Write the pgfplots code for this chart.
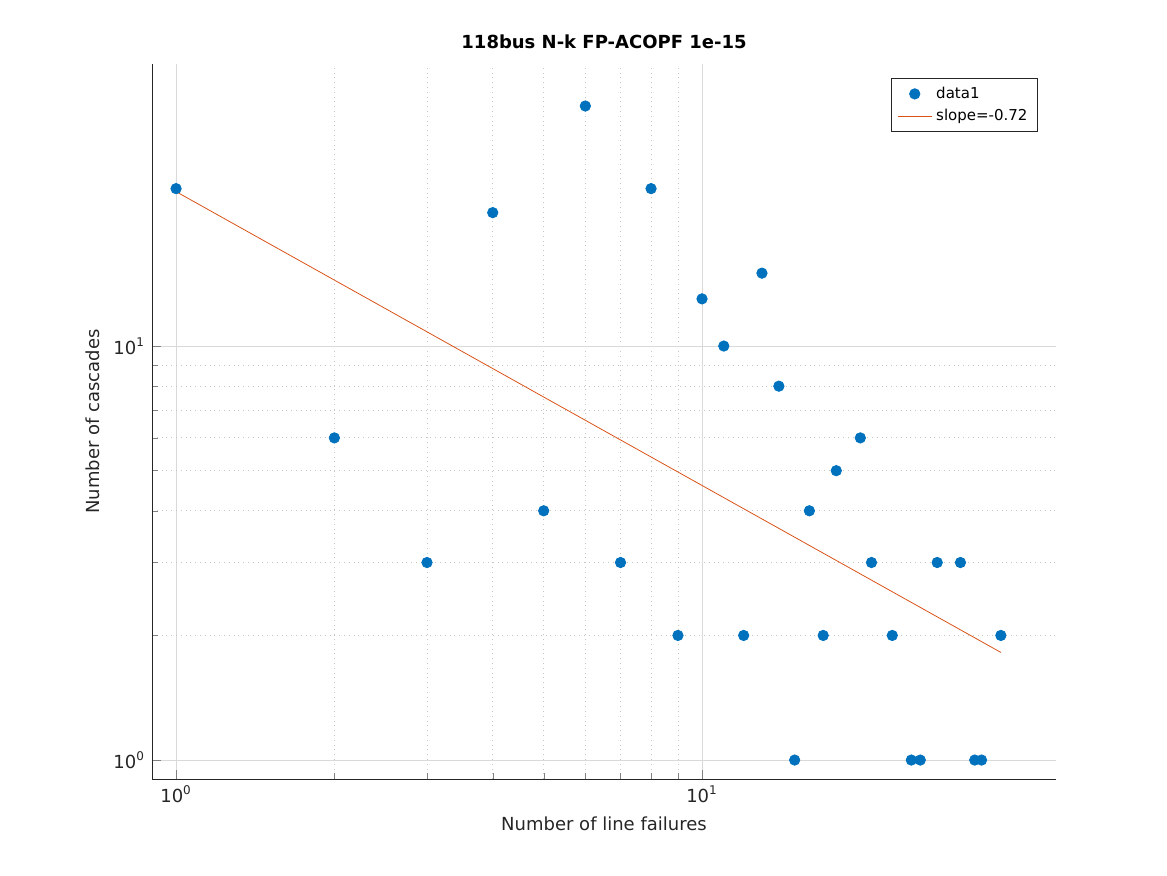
\documentclass[border=0pt]{standalone}
\usepackage{pgfplots}
\pgfplotsset{compat=1.18}
\usepackage{fontspec}
\setmainfont{DejaVu Sans}
\begin{document}
\begin{tikzpicture}[x=0.5pt,y=0.5pt]
\path[use as bounding box] (0,0) rectangle (1167,875);
\begin{axis}[at={(76pt,48pt)},anchor=south west,
 scale only axis,width=452pt,height=357.5pt,
 xmode=log,ymode=log,xmin=0.9,xmax=47.1,ymin=0.9,ymax=48,
 axis x line*=bottom,axis y line*=left,
 axis line style={black!85},
 tick align=inside,
 grid=both,
 major grid style={gray!30,line width=0.4pt},
 minor grid style={gray!45,dotted,line width=0.4pt},
 xtick={1,10},xticklabels={10\textsuperscript{0},10\textsuperscript{1}},
 ytick={1,10},yticklabels={10\textsuperscript{0},10\textsuperscript{1}},
 tick label style={font=\fontsize{9}{10}\selectfont,text=black!85},
 xlabel={Number of line failures},ylabel={Number of cascades},
 label style={font=\fontsize{9}{10}\selectfont,text=black!85},
 title={\bfseries 118bus N-k FP-ACOPF 1e-15},
 title style={font=\fontsize{9}{10}\selectfont,yshift=-2pt},
 legend style={at={(0.98,0.98)},anchor=north east,font=\fontsize{7.5}{9}\selectfont,draw=black!85,cells={anchor=west}},
 legend cell align=left,
]
\addplot[only marks,mark=*,mark size=2.6pt,color={rgb,255:red,0;green,114;blue,189}] coordinates {
(1,24)(2,6)(3,3)(4,21)(5,4)(6,38)(7,3)(8,24)(9,2)(10,13)(11,10)(12,2)(13,15)(14,8)(15,1)(16,4)(17,2)(18,5)(20,6)(21,3)(23,2)(25,1)(26,1)(28,3)(31,3)(33,1)(34,1)(37,2)};
\addlegendentry{data1}
\addplot[color={rgb,255:red,217;green,83;blue,25},line width=0.4pt] coordinates {(1,23.6)(37,1.82)};
\addlegendentry{slope=-0.72}
\end{axis}
\end{tikzpicture}
\end{document}
